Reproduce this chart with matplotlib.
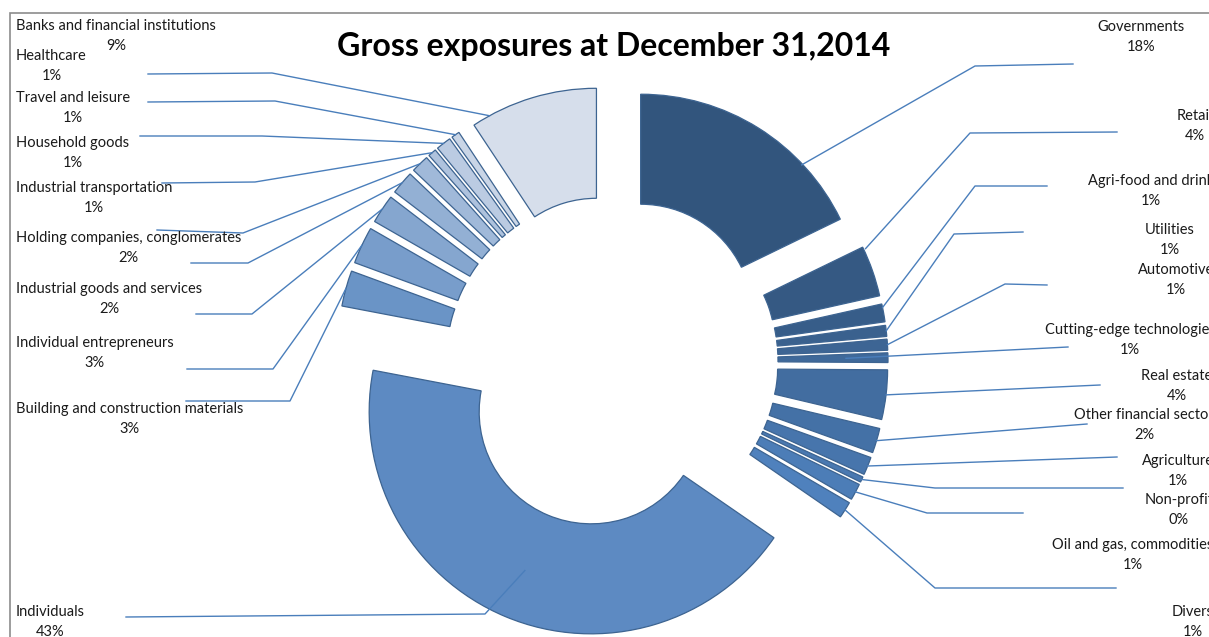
import numpy as np
import matplotlib.pyplot as plt
from matplotlib.patches import Rectangle

plt.rcParams['font.family'] = ['Lato', 'DejaVu Sans']

# sectors in clockwise order starting at 12 o'clock
sectors = [
    "Governments", "Retail", "Agri-food and drink", "Utilities", "Automotive",
    "Cutting-edge technologies", "Real estate", "Other financial sector",
    "Agriculture", "Non-profit", "Oil and gas, commodities", "Divers",
    "Individuals", "Building and construction materials",
    "Individual entrepreneurs", "Industrial goods and services",
    "Holding companies, conglomerates", "Industrial transportation",
    "Household goods", "Travel and leisure", "Healthcare",
    "Banks and financial institutions",
]
# share of gross exposures (%)
shares = [17.8, 3.7, 1.3, 0.8, 0.8, 0.7, 3.6, 1.8, 1.3, 0.4, 1.2, 1.2,
          43.4, 2.6, 2.7, 2.1, 1.7, 1.3, 0.6, 1.1, 0.6, 9.3]

W, H = 1209, 637


def px(x, y):
    # pixel position (origin top-left) -> axes data units
    return x, H - y


# label block: (x, y_mid, side)
label_pos = [
    (1141, 37, 'r'), (1195, 126, 'r'), (1151, 191, 'r'), (1170, 240, 'r'),
    (1176, 280, 'r'), (1130, 340, 'r'), (1177, 386, 'r'), (1144, 425, 'r'),
    (1178, 471, 'r'), (1179, 510, 'r'), (1133, 555, 'r'), (1193, 622, 'r'),
    (16, 622, 'l'), (16, 419, 'l'), (16, 353, 'l'), (16, 299, 'l'),
    (16, 248, 'l'), (16, 198, 'l'), (16, 153, 'l'), (16, 108, 'l'),
    (16, 66, 'l'), (16, 36, 'l'),
]
# leader line: (end, elbow or None, anchor radius,
#               anchor position along the wedge measured clockwise)
leaders = [
    ((1073, 64), (975, 66), 221, 0.73), ((1117, 132), (970, 133), 224, 0.05),
    ((1047, 186), (975, 186), 222, 0.2), ((1023, 232), (954, 234), 222, 0.5),
    ((1047, 285), (1005, 284), 222, 0.5), ((1068, 347), None, 180, 0.5),
    ((1100, 385), None, 222, 0.5), ((1087, 424), None, 222, 0.5),
    ((1117, 457), None, 222, 0.5), ((1123, 488), (935, 488), 222, 0.5),
    ((1023, 513), (927, 513), 222, 0.5), ((1116, 588), (935, 588), 222, 0.5),
    ((126, 617), (485, 614), 172, 0.5), ((186, 401), (290, 401), 222, 0.5),
    ((187, 369), (273, 369), 222, 0.5), ((196, 314), (252, 314), 222, 0.5),
    ((191, 263), (248, 263), 222, 0.5), ((157, 230), (243, 233), 222, 0.5),
    ((162, 183), (255, 182), 222, 0.5), ((140, 136), (262, 136), 222, 0.5),
    ((148, 102), (275, 101), 222, 0.5), ((148, 74), (272, 73), 222, 0.14),
]

# monochrome blues: dark navy -> accent blue -> pale blue
dark = np.array([50, 85, 125]) / 255
accent = np.array([79, 129, 189]) / 255
light = np.array([214, 222, 235]) / 255
colors = []
for i in range(len(shares)):
    if i <= 11:
        colors.append(dark + (accent - dark) * i / 11)
    else:
        colors.append(accent + (light - accent) * (i - 11) / 10)

fig = plt.figure(figsize=(W / 100, H / 100), dpi=100)
ax = fig.add_axes([0, 0, 1, 1])

wedges, _ = ax.pie(shares, explode=[54] * len(shares), radius=222,
                   center=px(612, 362), startangle=90, counterclock=False,
                   colors=colors,
                   wedgeprops=dict(width=110, edgecolor='#3d6491', linewidth=0.9))

ax.set_xlim(0, W)
ax.set_ylim(0, H)
ax.set_aspect('auto')
ax.axis('off')

# chart area border (only top and left edges fall inside the image)
ax.add_patch(Rectangle(px(10, H + 10), W + 20, H + 10 - 13, fill=False,
                       edgecolor='#8c8c8c', linewidth=1.2, zorder=1))

total = sum(shares)
for w, name, val, (lx, ly, side), (end, elbow, ar, af) in zip(
        wedges, sectors, shares, label_pos, leaders):
    # wedges run clockwise, so theta2 is where each one starts
    ang = np.deg2rad(w.theta2 - af * (w.theta2 - w.theta1))
    ax_, ay_ = w.center[0] + ar * np.cos(ang), w.center[1] + ar * np.sin(ang)
    pts = [(ax_, ay_)]
    if elbow is not None:
        pts.append(px(*elbow))
    pts.append(px(*end))
    xs, ys = zip(*pts)
    ax.plot(xs, ys, color='#4a7ebb', linewidth=1.0, zorder=4)

    txt = f"{name}\n{val / total * 100:.0f}%"
    ax.text(*px(lx, ly), txt, fontsize=10.5, color='#1a1a1a',
            ha='left' if side == 'l' else 'center', va='center',
            multialignment='center', linespacing=1.6, zorder=5)

ax.text(*px(614, 56), "Gross exposures at December 31,2014", fontsize=23,
        fontweight='bold', ha='center', va='baseline', color='black')

fig.savefig('out.png', dpi=100)
